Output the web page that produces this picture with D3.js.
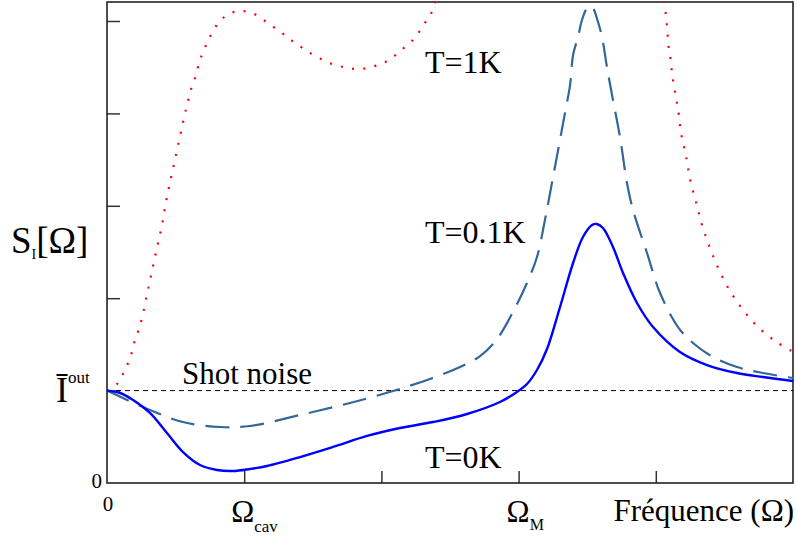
<!DOCTYPE html>
<html><head><meta charset="utf-8">
<script src="https://cdn.jsdelivr.net/npm/d3@7"></script>
<style>
body{margin:0;background:#fff}
text{font-family:"Liberation Serif","Times New Roman",serif;fill:#000}
</style>
</head><body>
<svg id="chart" width="797" height="536"></svg>
<script>
// ---- data (frequency in units of the x ticks, noise in units of shot noise) ----
const freqT0 = [0,0.095,0.190,0.313,0.437,0.554,0.678,0.802,0.918,1.042,1.166,1.407,1.647,1.895,2.135,2.376,2.624,2.864,2.988,3.061,3.134,3.207,3.302,3.397,3.469,3.535,3.571,3.615,3.688,3.761,3.863,3.980,4.176,4.373,4.592,4.781,5.0];
const noiseT0 = [1.0,0.974,0.898,0.758,0.541,0.335,0.195,0.141,0.130,0.152,0.184,0.281,0.390,0.509,0.595,0.660,0.747,0.877,0.985,1.071,1.223,1.450,1.905,2.381,2.662,2.792,2.803,2.760,2.554,2.273,1.948,1.688,1.418,1.277,1.190,1.147,1.104];

const freqT01 = [0,0.313,0.554,0.824,1.042,1.407,1.771,2.085,2.354,2.573,2.719,2.843,2.959,3.061,3.134,3.192,3.243,3.338,3.375,3.397,3.433,3.462,3.499,3.52,3.542,3.579,3.608,3.644,3.681,3.739,3.790,3.834,3.936,4.031,4.162,4.271,4.417,4.592,4.781,5.0];
const noiseT01 = [1.0,0.79,0.66,0.606,0.617,0.736,0.866,0.996,1.126,1.255,1.374,1.558,1.851,2.165,2.446,2.846,3.247,4.004,4.307,4.632,4.827,5.011,5.141,5.162,5.141,4.989,4.827,4.502,4.199,3.745,3.247,2.955,2.489,2.056,1.688,1.515,1.364,1.255,1.190,1.136];

const freqT1 = [0,0.073,0.117,0.153,0.182,0.204,0.233,0.255,0.292,0.328,0.364,0.401,0.430,0.466,0.503,0.539,0.576,0.598,0.620,0.649,0.671,0.700,0.736,0.773,0.824,0.889,0.969,1.057,1.130,1.203,1.276,1.341,1.414,1.480,1.560,1.640,1.720,1.808,1.895,1.975,2.055,2.121,2.187,2.252,2.296,2.347,2.383,2.42,2.5,3.5,4.0,4.04,4.060,4.074,4.082,4.089,4.096,4.111,4.118,4.133,4.147,4.162,4.184,4.220,4.249,4.293,4.337,4.395,4.461,4.541,4.636,4.752,4.891,5.0];
const noiseT1 = [1.0,1.071,1.180,1.299,1.418,1.548,1.667,1.786,2.045,2.294,2.543,2.792,3.041,3.301,3.550,3.799,4.048,4.177,4.297,4.416,4.545,4.665,4.784,4.892,5.0,5.076,5.108,5.087,5.022,4.946,4.870,4.794,4.719,4.654,4.589,4.535,4.502,4.481,4.491,4.524,4.578,4.654,4.740,4.827,4.935,5.043,5.152,5.5,6.5,14,6.5,5.6,5.195,5.065,4.935,4.805,4.686,4.556,4.426,4.297,4.167,4.048,3.788,3.539,3.290,3.041,2.792,2.543,2.305,2.078,1.872,1.677,1.515,1.42];

const shotNoise = 1.0;
const xTickValues = [0,1,2,3,4,5];
const yTickValues = [0,1,2,3,4,5];
const seriesLabels = ["T=1K","T=0.1K","T=0K"];

// ---- layout ----
const L = 107, R = 793, T = 2, B = 483;
const svg = d3.select("#chart");
const x = d3.scaleLinear().domain([0,5]).range([L,R]);
const y = d3.scaleLinear().domain([0,5]).range([B,21]);

svg.append("defs").append("clipPath").attr("id","plotclip")
  .append("rect").attr("x",L).attr("y",T).attr("width",R-L).attr("height",B-T);

// axes with inward ticks
const yAxis = d3.axisLeft(y).tickValues(yTickValues.slice(1)).tickSizeInner(-13).tickSizeOuter(0).tickFormat("");
const gy = svg.append("g").attr("transform",`translate(${L},0)`).call(yAxis);
gy.select(".domain").remove();
gy.selectAll(".tick line").attr("stroke","#333").attr("stroke-width",1.5);

const xAxis = d3.axisBottom(x).tickValues(xTickValues.slice(1,5)).tickSizeInner(-12).tickSizeOuter(0).tickFormat("");
const gx = svg.append("g").attr("transform",`translate(0,${B})`).call(xAxis);
gx.select(".domain").remove();
gx.selectAll(".tick line").attr("stroke","#333").attr("stroke-width",1.5);

// frame
svg.append("rect").attr("x",L).attr("y",T).attr("width",R-L).attr("height",B-T)
  .attr("fill","none").attr("stroke","#222").attr("stroke-width",1.6);

// shot noise line
svg.append("line").attr("x1",x(0)).attr("x2",x(5)).attr("y1",y(shotNoise)).attr("y2",y(shotNoise))
  .attr("stroke","#000").attr("stroke-width",1).attr("stroke-dasharray","5,4");

const line = d3.line().x(d=>x(d[0])).y(d=>y(d[1])).curve(d3.curveCatmullRom.alpha(0.5));
const plot = svg.append("g").attr("clip-path","url(#plotclip)");

plot.append("path").datum(d3.zip(freqT1,noiseT1)).attr("d",line)
  .attr("fill","none").attr("stroke","#ff0000").attr("stroke-width",2.2).attr("stroke-dasharray","2,9.3");
plot.append("path").datum(d3.zip(freqT01,noiseT01)).attr("d",line)
  .attr("fill","none").attr("stroke","#336699").attr("stroke-width",2.2).attr("stroke-dasharray","24,11");
plot.append("path").datum(d3.zip(freqT0,noiseT0)).attr("d",line)
  .attr("fill","none").attr("stroke","#0000ff").attr("stroke-width",2.4);

// labels
svg.append("text").attr("x",425).attr("y",73).attr("font-size",32).text(seriesLabels[0]);
svg.append("text").attr("x",425).attr("y",243).attr("font-size",32).text(seriesLabels[1]);
svg.append("text").attr("x",425).attr("y",468).attr("font-size",32).text(seriesLabels[2]);
svg.append("text").attr("x",182).attr("y",384).attr("font-size",31).text("Shot noise");

// y axis label
const yl = svg.append("text").attr("x",11).attr("y",253).attr("font-size",37);
yl.append("tspan").text("S");
yl.append("tspan").attr("font-size",14).attr("dy",6).text("I");
yl.append("tspan").attr("dy",-6).text("[Ω]");

// y tick labels
svg.append("text").attr("x",102).attr("y",y(0)+5).attr("text-anchor","end").attr("font-size",21).text("0");
const il = svg.append("text").attr("x",56).attr("y",y(shotNoise)+11).attr("font-size",36);
il.append("tspan").text("Ī");
il.append("tspan").attr("font-size",17).attr("dy",-19).text("out");

// x tick labels
svg.append("text").attr("x",x(0)+1).attr("y",511).attr("text-anchor","middle").attr("font-size",21).text("0");
const oc = svg.append("text").attr("x",x(1)-13).attr("y",522).attr("font-size",31);
oc.append("tspan").text("Ω");
oc.append("tspan").attr("font-size",17).attr("dy",10).text("cav");
const om = svg.append("text").attr("x",x(3)-12).attr("y",522).attr("font-size",31);
om.append("tspan").text("Ω");
om.append("tspan").attr("font-size",16).attr("dy",8).text("M");
svg.append("text").attr("x",794).attr("y",521).attr("text-anchor","end").attr("font-size",31).text("Fréquence (Ω)");
</script>
</body></html>
